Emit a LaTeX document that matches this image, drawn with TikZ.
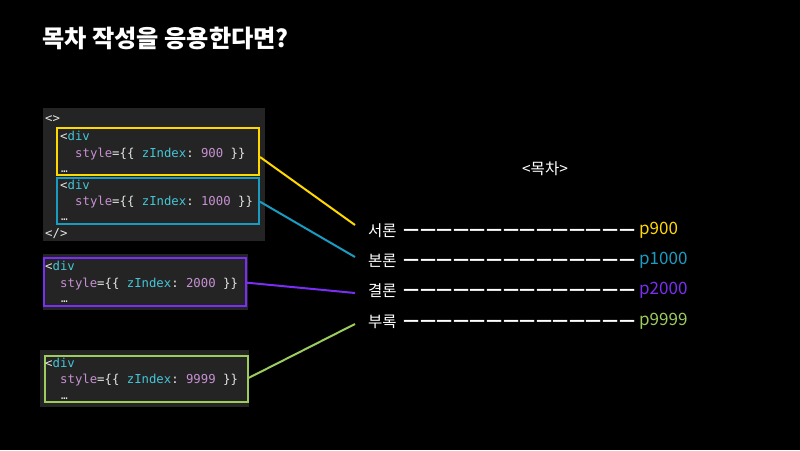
\documentclass[tikz,border=0pt]{standalone}
\usepackage{fontspec}
\setmonofont{DejaVu Sans Mono}
\newfontfamily\kr{Noto Sans CJK KR}
\definecolor{ylw}{HTML}{FFD800}
\definecolor{tea}{HTML}{1A9CC2}
\definecolor{pur}{HTML}{7A2EF5}
\definecolor{grn}{HTML}{9CCB5E}
\definecolor{panel}{HTML}{242424}
\definecolor{ct}{HTML}{45C6D8}
\definecolor{cp}{HTML}{C690D2}
\definecolor{cw}{HTML}{E6E6E6}
\newcommand{\kT}[1]{\textcolor{ct}{#1}}
\newcommand{\kP}[1]{\textcolor{cp}{#1}}
\newcommand{\emd}{\makebox[16.57pt][l]{—}}
\newcommand{\dashrow}{\emd\emd\emd\emd\emd\emd\emd\emd\emd\emd\emd\emd\emd\emd}
\begin{document}
\begin{tikzpicture}[x=1pt,y=-1pt,
  panelbox/.style={fill=panel, draw=none, inner sep=0, minimum width=#1},
  codebox/.style={draw=#1, line width=2pt, inner sep=0},
  code/.style={anchor=base west, inner sep=0, text=cw, font=\ttfamily\fontsize{12.3}{14}\selectfont},
  codes/.style={anchor=base west, inner sep=0, text=cw, font=\ttfamily\fontsize{11}{12}\selectfont},
  lab/.style={anchor=west, inner sep=0, text=white, font=\kr\fontsize{15.5}{18}\selectfont},
  dashline/.style={anchor=base west, inner sep=0, text=white, font=\kr\bfseries\fontsize{17.6}{20}\selectfont},
  plab/.style={anchor=west, inner sep=0, font=\kr\fontsize{17}{20}\selectfont},
  link/.style={line width=2pt, draw=#1}]
\fill[black] (0,0) rectangle (800,450);
\useasboundingbox (0,0) rectangle (800,450);

% title
\node[anchor=west, inner sep=0, text=white, font=\kr\bfseries\fontsize{24.2}{28}\selectfont] (title) at (42,38.5) {목차 작성을 응용한다면?};

% panels
\node[panelbox=222pt, minimum height=133pt] (p1) at (154,174.5) {};
\node[panelbox=205pt, minimum height=56pt] (p2) at (145.5,282) {};
\node[panelbox=209pt, minimum height=57pt] (p3) at (144.5,378.5) {};

% coloured frames
\node[codebox=ylw, minimum width=202pt, minimum height=47pt] (ybox) at (158,151.5) {};
\node[codebox=tea, minimum width=202pt, minimum height=46pt] (tbox) at (158,201) {};
\node[codebox=pur, minimum width=202pt, minimum height=48pt] (pbox) at (145,282) {};
\node[codebox=grn, minimum width=203pt, minimum height=46pt] (gbox) at (146,379) {};

% code text, block 1
\node[code] (f0) at (45,122) {<>};
\node[code] (a1) at (60,140) {<\kT{div}};
\node[code] (a2) at (75,157) {\kP{style}=\{\{ \kT{zIndex}: \kP{900} \}\}};
\node[codes] (a3) at (61,172) {…};
\node[code] (b1) at (60,189) {<\kT{div}};
\node[code] (b2) at (75,205) {\kP{style}=\{\{ \kT{zIndex}: \kP{1000} \}\}};
\node[codes] (b3) at (61,220) {…};
\node[code] (f1) at (45,237) {</>};

% block 2
\node[code] (c1) at (45,270) {<\kT{div}};
\node[code] (c2) at (60,287) {\kP{style}=\{\{ \kT{zIndex}: \kP{2000} \}\}};
\node[codes] (c3) at (61,302) {…};

% block 3
\node[code] (d1) at (45,367) {<\kT{div}};
\node[code] (d2) at (60,383) {\kP{style}=\{\{ \kT{zIndex}: \kP{9999} \}\}};
\node[codes] (d3) at (61,399) {…};

% table of contents
\node[anchor=center, inner sep=0, text=white, font=\kr\fontsize{15.5}{18}\selectfont] (toc) at (545,169) {<목차>};

\node[lab] (s1) at (368,230.5) {서론};
\node[lab] (s2) at (368,260.5) {본론};
\node[lab] (s3) at (368,290.5) {결론};
\node[lab] (s4) at (368,321.5) {부록};

\node[dashline] (l1) at (403.5,235) {\dashrow};
\node[dashline] (l2) at (403.5,265) {\dashrow};
\node[dashline] (l3) at (403.5,295) {\dashrow};
\node[dashline] (l4) at (403.5,326) {\dashrow};

\node[plab, text=ylw] (q1) at (639,230.5) {p900};
\node[plab, text=tea] (q2) at (639,260.5) {p1000};
\node[plab, text=pur] (q3) at (639,290.5) {p2000};
\node[plab, text=grn] (q4) at (639,321.5) {p9999};

% connectors
\draw[link=ylw] ([yshift=-5.5pt]ybox.east) -- ([xshift=-13pt,yshift=5.5pt]s1.west);
\draw[link=tea] ([yshift=-0.7pt]tbox.east) -- ([xshift=-13pt,yshift=3.5pt]s2.west);
\draw[link=pur] ([yshift=-0.7pt]pbox.east) -- ([xshift=-13pt,yshift=-2.5pt]s3.west);
\draw[link=grn] ([yshift=1pt]gbox.east) -- ([xshift=-13pt,yshift=-2.5pt]s4.west);
\end{tikzpicture}
\end{document}
